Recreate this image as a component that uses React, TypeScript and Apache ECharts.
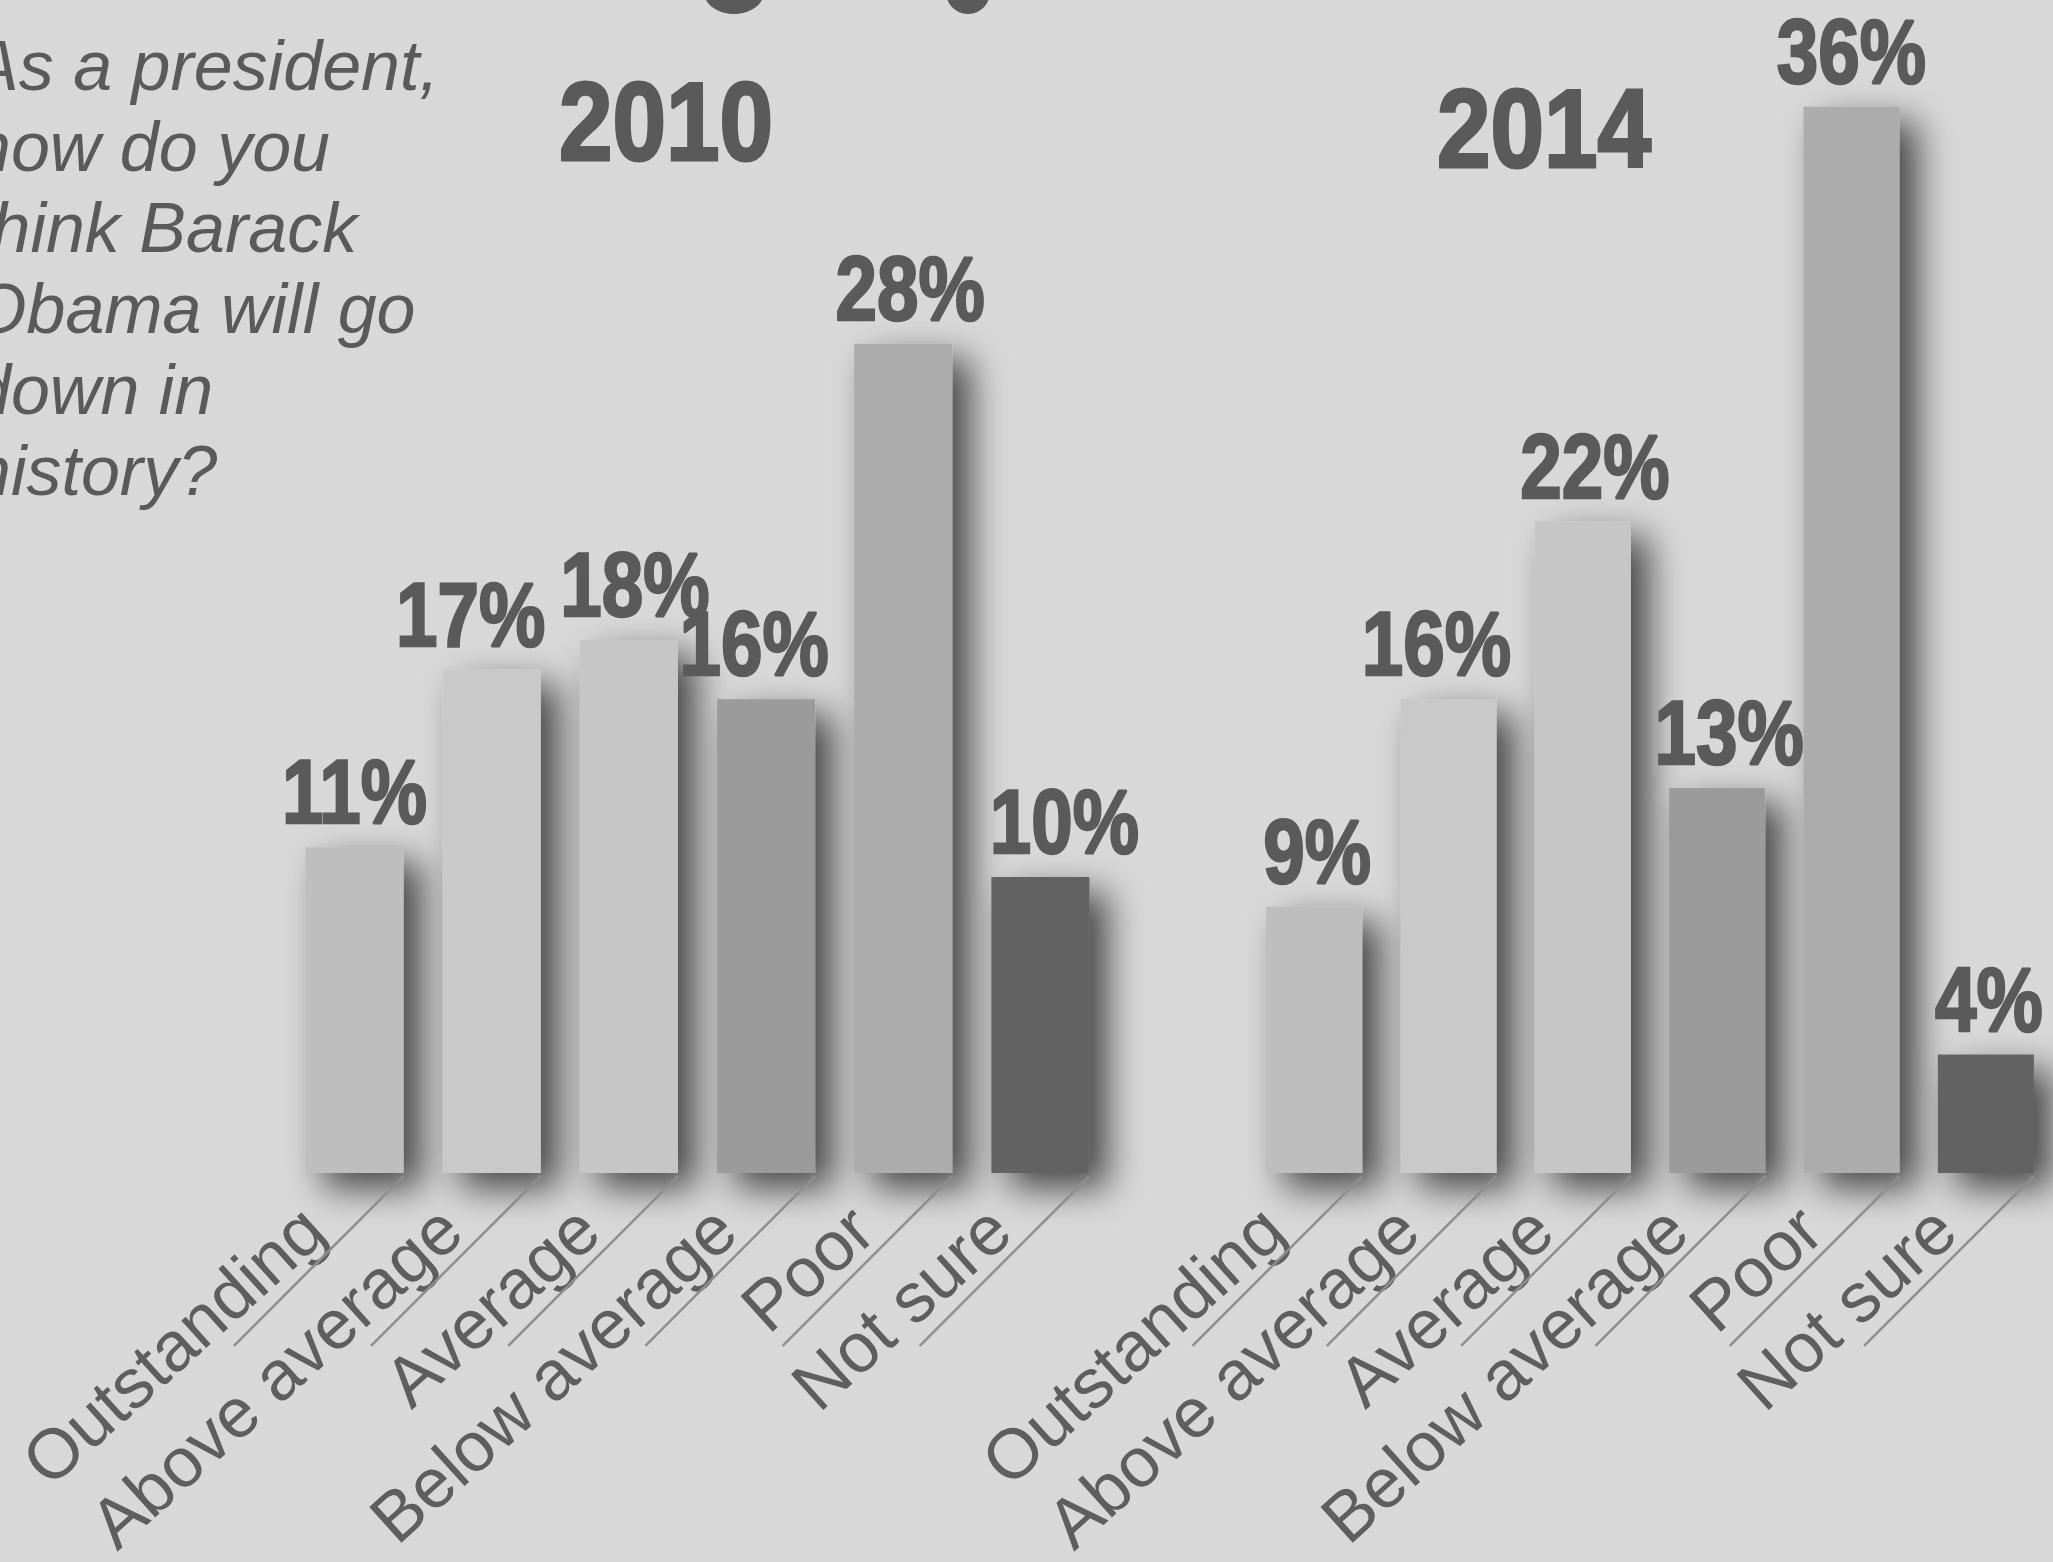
import React, { useEffect, useRef } from "react";
import * as echarts from "echarts";

const categories = ["Outstanding", "Above average", "Average", "Below average", "Poor", "Not sure"];
const values2010 = [11, 17, 18, 16, 28, 10];
const values2014 = [9, 16, 22, 13, 36, 4];
const barColors = ["#bebebe", "#c9c9c9", "#c6c6c6", "#9b9b9b", "#acacac", "#626262"];
const years = ["2010", "2014"];
const questionLines = ["As a president,", "how do you", "think Barack", "Obama will go", "down in", "history?"];

// horizontal nudges (px) of the value labels, as typeset in the original
const labelNudge2010 = [0, -21, 6, -12, 7, 24];
const labelNudge2014 = [3, -12, 12, 12, 0, 3];

const BG = "#d8d8d8";
const INK = "#5a5a5a";
const BOLD = "'Liberation Sans', Arial, Helvetica, sans-serif";
const SANS = "'Liberation Sans', Arial, Helvetica, sans-serif";
const GAP = 0.285;
const LINE_LEN = 240;

function barSeries(values: number[], idx: number) {
  return {
    type: "bar",
    xAxisIndex: idx,
    yAxisIndex: idx,
    barCategoryGap: GAP * 100 + "%",
    data: values.map((v, j) => ({ value: v, itemStyle: { color: barColors[j] } })),
    itemStyle: {
      shadowBlur: 36,
      shadowOffsetX: 18,
      shadowOffsetY: 15,
      shadowColor: "rgba(0,0,0,0.68)",
    },
    z: 2,
  };
}

// value labels in a condensed heavy style, placed through the axes
function valueLabelSeries(values: number[], nudges: number[], idx: number) {
  return {
    type: "custom",
    xAxisIndex: idx,
    yAxisIndex: idx,
    data: values.map((v, i) => [i, v]),
    z: 4,
    silent: true,
    renderItem: (params: any, api: any) => {
      const i = api.value(0);
      const v = api.value(1);
      const p = api.coord([i, v]);
      return {
        type: "text",
        x: p[0] + nudges[i],
        y: p[1] - 55,
        scaleX: 0.82,
        style: {
          text: v + "%",
          font: "bold 91px " + BOLD,
          fill: INK,
          stroke: INK,
          lineWidth: 2.5,
          textAlign: "center",
          textVerticalAlign: "middle",
        },
      };
    },
  };
}

function lineSeries(idx: number) {
  return {
    type: "custom",
    xAxisIndex: idx,
    yAxisIndex: idx,
    data: categories.map((c, i) => [i, 0]),
    z: 3,
    silent: true,
    renderItem: (params: any, api: any) => {
      const p = api.coord([api.value(0), 0]);
      const band = api.size([1, 0])[0];
      const x = p[0] + (band * (1 - GAP)) / 2;
      const y = p[1] + 3;
      const a = (45 * Math.PI) / 180;
      return {
        type: "line",
        shape: { x1: x, y1: y, x2: x - LINE_LEN * Math.cos(a), y2: y + LINE_LEN * Math.sin(a) },
        style: { stroke: "#8e8e8e", lineWidth: 2.5 },
      };
    },
  };
}

function xAxis(idx: number) {
  return {
    type: "category",
    gridIndex: idx,
    data: categories,
    axisLine: { show: false },
    axisTick: { show: false },
    axisLabel: {
      interval: 0,
      rotate: 42,
      margin: 9,
      padding: [0, 55, 0, 0],
      fontSize: 70,
      fontFamily: SANS,
      color: "#5e5e5e",
    },
  };
}

function yAxis(idx: number) {
  return { type: "value", gridIndex: idx, min: 0, max: 39, show: false, splitLine: { show: false } };
}

export default function App() {
  const ref = useRef<HTMLDivElement>(null);
  useEffect(() => {
    if (!ref.current) return;
    const chart = echarts.init(ref.current, undefined, { renderer: "svg" });
    const yearStyle = (t: string) => ({
      text: t,
      font: "bold 112px " + BOLD,
      fill: INK,
      stroke: INK,
      lineWidth: 3,
      textAlign: "center",
      textVerticalAlign: "middle",
    });
    chart.setOption({
      animation: false,
      backgroundColor: BG,
      grid: [
        { left: 286, top: 18, width: 823, height: 1157 },
        { left: 1247, top: 18, width: 821, height: 1157 },
      ],
      xAxis: [xAxis(0), xAxis(1)],
      yAxis: [yAxis(0), yAxis(1)],
      series: [
        barSeries(values2010, 0),
        barSeries(values2014, 1),
        lineSeries(0),
        lineSeries(1),
        valueLabelSeries(values2010, labelNudge2010, 0),
        valueLabelSeries(values2014, labelNudge2014, 1),
      ],
      graphic: [
        { type: "text", x: 666, y: 121, scaleX: 0.86, style: yearStyle(years[0]) },
        { type: "text", x: 1544, y: 128, scaleX: 0.86, style: yearStyle(years[1]) },
        {
          type: "text",
          x: -28,
          y: 25,
          style: {
            text: questionLines.join("\n"),
            font: "italic 70px " + SANS,
            lineHeight: 81,
            fill: INK,
            textAlign: "left",
            textVerticalAlign: "top",
          },
        },
        { type: "ellipse", shape: { cx: 734, cy: -8, rx: 30, ry: 22 }, style: { fill: INK } },
        { type: "ellipse", shape: { cx: 968, cy: -8, rx: 22, ry: 22 }, style: { fill: INK } },
      ],
    });
    return () => chart.dispose();
  }, []);
  return <div ref={ref} style={{ position: "absolute", left: 0, top: 0, width: 2053, height: 1562 }} />;
}
